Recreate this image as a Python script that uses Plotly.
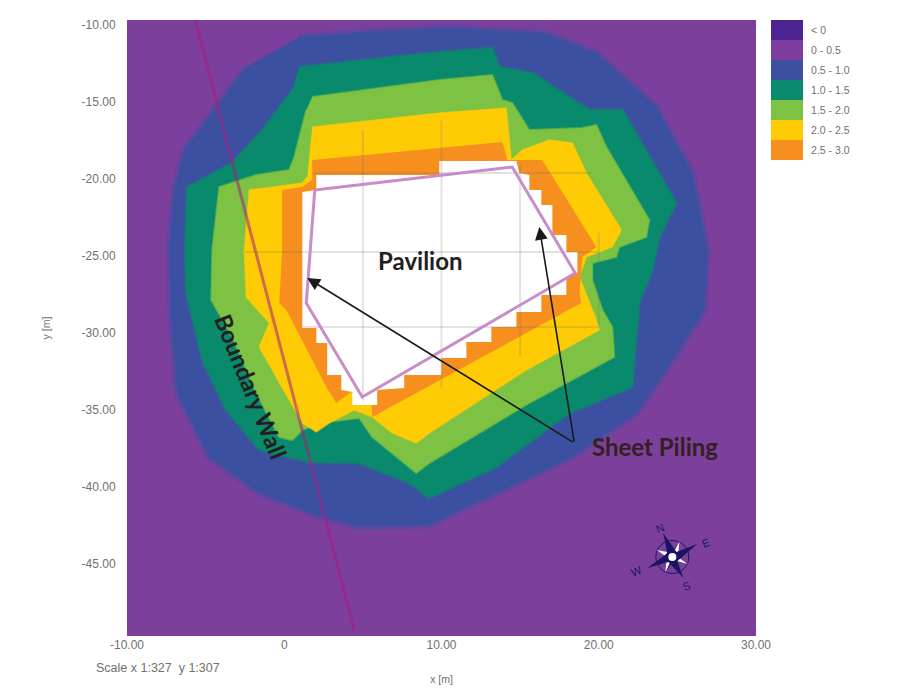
import plotly.graph_objects as go

legend_labels = ["< 0", "0 - 0.5", "0.5 - 1.0", "1.0 - 1.5", "1.5 - 2.0", "2.0 - 2.5", "2.5 - 3.0"]
legend_colors = ["#4A2390", "#7D3C9E", "#3C50A2", "#0A8A6C", "#7DC242", "#FFCB05", "#F78F1E"]
x_ticks = [-10, 0, 10, 20, 30]
x_tick_text = ["-10.00", "0", "10.00", "20.00", "30.00"]
y_ticks = [-10, -15, -20, -25, -30, -35, -40, -45]
y_tick_text = ["-10.00", "-15.00", "-20.00", "-25.00", "-30.00", "-35.00", "-40.00", "-45.00"]

blue_x = [.95, 6.04, 10.50, 16.54, 19.85, 23.66, 25.95, 26.91, 26.72, 24.17, 22.39, 18.32, 13.49, 9.22, 4.77, 2.04, -1.59, -4.77, -6.81, -7.19, -7.32, -7.00, -6.36, -2.42]
blue_y = [-10.78, -10.39, -10.20, -10.52, -11.82, -15.33, -19.62, -24.62, -28.51, -32.60, -35.20, -38.06, -40.40, -42.47, -42.60, -41.83, -40.40, -38.06, -33.90, -29.16, -24.62, -20.72, -18.12, -12.73]
teal_x = [.95, 9.86, 13.23, 13.68, 15.77, 19.40, 21.50, 23.85, 24.93, 23.85, 23.41, 22.58, 22.13, 18.13, 13.49, 9.22, 7.95, 4.77, 1.59, -1.59, -3.69, -5.22, -6.23, -6.30, -6.17, -3.31, -1.40, .51]
teal_y = [-12.73, -11.76, -11.50, -12.73, -13.12, -15.52, -15.52, -19.62, -21.56, -23.77, -25.91, -28.06, -33.51, -35.20, -38.71, -40.72, -39.75, -38.45, -38.38, -37.60, -35.01, -31.76, -27.41, -24.62, -20.53, -18.97, -16.82, -14.23]
green_x = [1.78, 9.86, 13.23, 13.86, 14.50, 15.58, 18.95, 19.85, 20.48, 23.21, 23.02, 21.30, 21.11, 19.59, 19.59, 20.23, 20.86, 20.99, 15.58, 9.22, 8.40, 5.60, 4.77, 2.23, 1.15, .51, -.32, -1.78, -3.31, -4.64, -4.58, -4.13, -1.78, .32, .64, 1.40]
green_y = [-14.68, -13.58, -13.25, -14.88, -15.07, -16.82, -16.69, -16.50, -17.93, -22.67, -23.77, -24.42, -25.07, -25.46, -26.56, -28.51, -29.62, -31.56, -34.55, -38.45, -39.10, -36.76, -35.53, -35.85, -36.31, -36.96, -36.76, -33.90, -30.27, -27.86, -24.62, -20.53, -19.75, -19.42, -18.58, -15.52]
yellow_x = [1.78, 9.86, 14.12, 14.44, 15.14, 16.86, 18.32, 19.21, 21.44, 20.86, 19.21, 18.77, 19.85, 20.04, 15.39, 9.22, 8.40, 6.87, 5.60, 4.45, 2.86, 2.04, 1.15, -1.59, -.95, -2.42, -2.54, -2.23, 1.15, 1.46]
yellow_y = [-16.63, -15.72, -15.39, -18.77, -18.12, -17.47, -17.67, -19.62, -23.32, -24.42, -25.07, -26.37, -29.16, -29.81, -32.41, -36.50, -37.15, -36.50, -35.46, -35.01, -35.85, -36.43, -35.85, -30.92, -29.36, -27.67, -24.62, -20.72, -20.27, -19.88]
orange_x = [1.78, 13.87, 14.19, 14.95, 16.41, 19.85, 18.96, 18.77, 18.89, 5.60, 5.53, 4.26, 3.31, 2.67, 1.15, .13, -.32, -.13, -.13, 1.15, 1.78]
orange_y = [-18.77, -17.60, -18.77, -18.77, -18.77, -24.42, -25.07, -27.41, -28.06, -35.46, -34.36, -33.84, -34.55, -33.51, -30.46, -28.51, -28.06, -24.62, -20.72, -20.53, -20.07]
white_x = [2.04, 9.86, 9.86, 14.76, 14.95, 15.59, 15.59, 16.35, 16.35, 17.05, 17.05, 17.94, 17.94, 18.64, 18.64, 17.94, 17.94, 16.35, 16.35, 14.76, 14.76, 13.17, 13.17, 11.58, 11.58, 9.99, 9.99, 7.63, 7.63, 5.91, 5.91, 4.33, 4.33, 3.63, 3.63, 2.73, 2.73, 2.04, 2.04, 1.15, 1.15, 2.04]
white_y = [-19.75, -19.75, -18.84, -18.84, -19.62, -19.75, -20.72, -20.72, -21.69, -21.69, -23.64, -23.64, -24.75, -24.75, -26.11, -26.37, -27.54, -27.54, -28.64, -28.64, -29.62, -29.62, -30.59, -30.59, -31.63, -31.63, -32.73, -32.73, -33.58, -33.71, -34.68, -34.68, -33.84, -33.71, -32.73, -32.73, -30.66, -30.66, -29.68, -29.68, -20.85, -20.72]
pavilion_x = [1.94, 14.50, 18.50, 4.96, 1.40, 1.94]
pavilion_y = [-20.72, -19.23, -26.11, -34.16, -28.06, -20.72]
wall_x = [-5.66, 4.45]
wall_y = [-9.68, -49.29]
grid_x = [5, 5, None, 10, 10, None, 15, 15, None, 20, 20, None, -2.5, 20, None, 1.2, 20, None, 1.8, 19.5]
grid_y = [-16.8, -34.4, None, -16.2, -33.6, None, -19, -31.5, None, -23.5, -29.5, None, -24.75, -24.75, None, -29.62, -29.62, None, -19.62, -19.62]

star_x = [24.10, 24.94, 26.27, 25.00, 25.38, 24.43, 23.09, 24.36, 24.10]
star_y = [-42.99, -44.23, -43.71, -44.81, -45.92, -44.87, -45.27, -44.30, -42.99]
short_star_x = [25.13, 24.94, 25.66, 24.75, 24.24, 24.43, 23.69, 24.62, 25.13]
short_star_y = [-43.55, -44.55, -45.01, -44.81, -45.56, -44.55, -44.10, -44.30, -43.55]
sliver_x = [24.80, 25.13, 25.06, 24.80, None, 25.06, 25.66, 24.93, 25.06, None, 24.55, 24.24, 24.30, 24.55, None, 24.23, 23.69, 24.36, 24.23]
sliver_y = [-44.16, -43.55, -44.29, -44.16, None, -44.58, -45.01, -44.81, -44.58, None, -44.88, -45.56, -44.75, -44.88, None, -44.49, -44.10, -44.23, -44.49]
compass_x = [24.68]
compass_y = [-44.55]
compass_labels = ["N", "E", "S", "W"]
compass_label_x = [23.92, 26.78, 25.57, 22.39]
compass_label_y = [-42.67, -43.64, -46.44, -45.46]
NAVY = "#1B1464"

fig = go.Figure()


def region(xs, ys, color, edge=None, width=0):
    fig.add_trace(go.Scatter(x=xs, y=ys, mode="lines", fill="toself", fillcolor=color,
                             line=dict(color=edge or color, width=width), hoverinfo="skip"))


region(blue_x, blue_y, legend_colors[2], "rgba(60,80,162,0.45)", 7)
region(teal_x, teal_y, legend_colors[3], "rgba(10,138,108,0.5)", 3)
region(green_x, green_y, legend_colors[4], "rgba(125,194,66,0.6)", 2)
region(yellow_x, yellow_y, legend_colors[5], "rgba(255,203,5,0.6)", 1.5)
region(orange_x, orange_y, legend_colors[6])
region(white_x, white_y, "#FFFFFF")

fig.add_trace(go.Scatter(x=grid_x, y=grid_y, mode="lines", connectgaps=False,
                         line=dict(color="rgba(110,110,110,0.2)", width=2), hoverinfo="skip"))
fig.add_trace(go.Scatter(x=wall_x, y=wall_y, mode="lines",
                         line=dict(color="rgba(170,30,125,0.55)", width=3), hoverinfo="skip"))
fig.add_trace(go.Scatter(x=pavilion_x, y=pavilion_y, mode="lines",
                         line=dict(color="#C88CC8", width=3), hoverinfo="skip"))

fig.add_trace(go.Scatter(x=compass_x, y=compass_y, mode="markers",
                         marker=dict(symbol="circle-open", size=33, color=NAVY, line=dict(color=NAVY, width=1)),
                         hoverinfo="skip"))
region(short_star_x, short_star_y, NAVY)
region(sliver_x, sliver_y, "#FFFFFF")
region(star_x, star_y, NAVY)
fig.add_trace(go.Scatter(x=compass_x, y=compass_y, mode="markers",
                         marker=dict(symbol="circle", size=8, color="#FFFFFF"), hoverinfo="skip"))

fig.add_trace(go.Bar(x=[1] * len(legend_labels), y=legend_labels, orientation="h", width=1,
                     marker=dict(color=legend_colors, line=dict(width=0)), xaxis="x2", yaxis="y2",
                     hoverinfo="skip"))

annotations = [
    dict(x=8.65, y=-25.3, text="<b>Pavilion</b>", font=dict(family="Lato", size=24, color="#231F20")),
    dict(x=23.6, y=-37.4, text="<b>Sheet Piling</b>", font=dict(family="Lato", size=24, color="#33201F")),
    dict(x=-2.1, y=-33.5, text="<b>Boundary Wall</b>", textangle=68,
         font=dict(family="Lato", size=23.5, color="#231F20")),
]
for name, lx, ly in zip(compass_labels, compass_label_x, compass_label_y):
    annotations.append(dict(x=lx, y=ly, text=name, textangle=-21, font=dict(family="Liberation Sans", size=11, color=NAVY)))
for a in annotations:
    a.update(xref="x", yref="y", showarrow=False)

for tip_x, tip_y in [(1.46, -26.43), (16.22, -23.12)]:
    annotations.append(dict(x=tip_x, y=tip_y, ax=18.45, ay=-37.15, xref="x", yref="y", axref="x", ayref="y",
                            text="", showarrow=True, arrowhead=2, arrowsize=1.6, arrowwidth=1.6,
                            arrowcolor="#1A1A1A"))
annotations.append(dict(x=(158 - 127) / 740, y=(636 - 668) / 616, xref="paper", yref="paper",
                        xanchor="center", yanchor="middle",
                        text="Scale x 1:327  y 1:307", showarrow=False,
                        font=dict(family="Liberation Sans", size=12.5, color="#707070")))

TICK_FONT = dict(family="Liberation Sans", size=12, color="#707070")
LEGEND_FONT = dict(family="Liberation Sans", size=10.5, color="#707070")
fig.update_layout(
    width=891, height=681, autosize=False,
    margin=dict(l=119, r=32, t=12, b=53, autoexpand=False),
    paper_bgcolor="#FFFFFF", plot_bgcolor="#7D3F9C",
    showlegend=False,
    annotations=annotations,
    xaxis=dict(domain=[0, 629 / 740], range=[-10, 30], tickvals=x_ticks, ticktext=x_tick_text,
               showgrid=False, zeroline=False, showline=False, ticks="", automargin=False,
               tickfont=TICK_FONT,
               title=dict(text="x [m]", font=LEGEND_FONT, standoff=24)),
    yaxis=dict(domain=[0, 1], range=[-49.68, -9.68], tickvals=y_ticks, ticktext=y_tick_text,
               showgrid=False, zeroline=False, showline=False, ticks="outside", ticklen=8,
               tickcolor="#FFFFFF", tickfont=TICK_FONT, automargin=False,
               title=dict(text="y [m]", font=LEGEND_FONT, standoff=28)),
    xaxis2=dict(domain=[(771 - 127) / 740, (803 - 127) / 740], range=[0, 1], anchor="y2", visible=False),
    yaxis2=dict(domain=[(636 - 160) / 616, 1], anchor="x2", side="right", type="category",
                categoryorder="array", categoryarray=legend_labels, range=[6.5, -0.5],
                showgrid=False, zeroline=False, showline=False, ticks="outside", ticklen=5,
                tickcolor="#FFFFFF", tickfont=LEGEND_FONT, automargin=False),
    bargap=0,
)
fig.write_html("out.html")
